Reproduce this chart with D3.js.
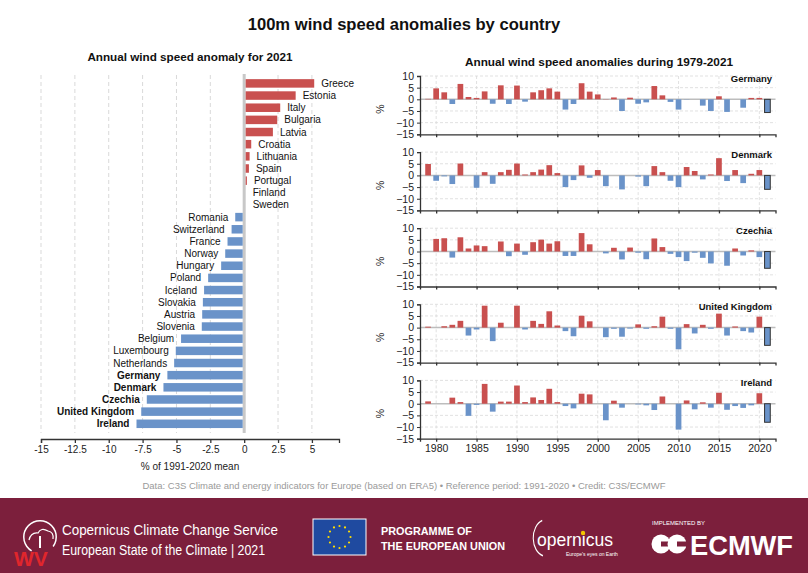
<!DOCTYPE html>
<html>
<head>
<meta charset="utf-8">
<script src="https://cdn.jsdelivr.net/npm/d3@7"></script>
<style>
body { margin: 0; background: #fff; }
svg text { font-family: "Liberation Sans", Arial, sans-serif; }
</style>
</head>
<body>
<svg id="mainSvg" width="808" height="573"></svg>
<script>
// 2021 anomaly per country (% of 1991-2020 mean)
var countries2021 = ["Greece","Estonia","Italy","Bulgaria","Latvia","Croatia","Lithuania","Spain","Portugal","Finland","Sweden",
    "Romania","Switzerland","France","Norway","Hungary","Poland","Iceland","Slovakia","Austria","Slovenia",
    "Belgium","Luxembourg","Netherlands","Germany","Denmark","Czechia","United Kingdom","Ireland"];
var values2021 = [5.17, 3.8, 2.66, 2.44, 2.12, 0.52, 0.4, 0.35, 0.2, 0.05, 0.02,
    -0.66, -0.93, -1.23, -1.4, -1.7, -2.66, -2.96, -3.05, -3.1, -3.13,
    -4.66, -5.05, -5.17, -5.67, -5.96, -7.19, -7.6, -7.95];
var boldCountries = ["Germany","Denmark","Czechia","United Kingdom","Ireland"];
var leftTicks = [-15, -12.5, -10, -7.5, -5, -2.5, 0, 2.5, 5];

// yearly anomalies 1979-2021
var years = d3.range(1979, 2022);
var yearTicks = [1980, 1985, 1990, 1995, 2000, 2005, 2010, 2015, 2020];
var panelTicks = [10, 5, 0, -5, -10, -15];
var panelNames = ["Germany","Denmark","Czechia","United Kingdom","Ireland"];
var germany = [0.2, 4.7, 3.0, -2.0, 6.6, 1.0, 0.6, 3.4, -1.9, 6.0, -2.0, 5.9, -1.0, 3.0, 3.9, 4.7, 3.3, -4.4, -2.0, 6.9, 3.3, 2.1, 0.1, 0.8, -5.0, 0.7, -1.9, -1.3, 5.7, 1.7, -1.1, -4.4, -0.1, 0.0, -2.7, -5.0, 1.3, -5.4, 0.0, -3.6, 0.6, 0.6, -5.67];
var denmark = [4.9, -2.3, -0.4, -3.7, 5.1, 0.0, -5.3, 1.4, -3.6, 1.4, 2.4, 5.1, 0.4, 1.4, 2.5, 4.4, 1.0, -5.0, -2.0, 4.3, -1.0, 2.3, -4.6, 0.0, -6.0, 0.0, -0.5, -4.6, 4.0, 1.4, -2.3, -5.0, 3.6, 1.9, -1.7, 0.4, 7.4, -2.4, 2.3, -3.3, 0.7, 2.3, -5.96];
var czechia = [0.0, 5.4, 5.7, -2.6, 6.1, 1.3, 2.6, 2.3, 0.0, 4.3, -2.0, 3.4, -1.4, 4.0, 5.1, 3.4, 4.4, -1.9, -1.9, 7.9, 3.1, 0.0, -0.8, 1.6, -3.4, 1.7, -0.5, -3.3, 5.6, 1.9, -1.0, -2.4, -4.1, -0.5, -2.7, -5.1, 0.0, -6.1, 1.3, -1.7, 0.5, -2.4, -7.19];
var unitedKingdom = [0.4, 0.0, 0.6, 1.2, 2.9, -3.4, -0.8, 9.4, -5.8, 2.1, 0.0, 9.4, -0.8, 2.9, 1.6, 7.0, 0.9, -1.5, -3.7, 5.1, 2.7, 0.0, -4.1, -0.5, -3.9, -0.4, 1.4, -0.5, 0.6, 4.7, -0.5, -9.3, 1.5, -2.5, 1.2, -0.5, 6.0, -3.4, 0.5, -1.5, -2.1, 4.7, -7.6];
var ireland = [1.0, 0.0, 0.0, 2.6, 0.7, -5.2, -0.5, 8.5, -3.4, 0.9, 0.9, 7.8, 0.7, 2.7, 1.6, 6.4, 0.7, -1.0, -2.0, 4.3, 4.0, 0.0, -7.1, 1.3, -1.7, 0.0, -0.3, -0.7, -2.7, 3.1, 0.0, -11.1, 1.4, -2.4, 0.6, -1.7, 4.7, -2.6, -1.0, -1.8, -0.7, 4.5, -7.95];
var panelSeries = [germany, denmark, czechia, unitedKingdom, ireland];

var redColor = "#c9504f";
var blueColor = "#6a93c9";
var gridColor = "#d9d9d9";
var axisColor = "#333";

var svg = d3.select("#mainSvg");

function drawTitles(){
    svg.append("text")
    .attr("x", 404)
    .attr("y", 30)
    .attr("text-anchor", "middle")
    .attr("font-size", "16.6px")
    .attr("font-weight", "bold")
    .attr("fill", "#111")
    .text("100m wind speed anomalies by country");

    svg.append("text")
    .attr("x", 190)
    .attr("y", 61)
    .attr("text-anchor", "middle")
    .attr("font-size", "11.7px")
    .attr("font-weight", "bold")
    .attr("fill", "#111")
    .text("Annual wind speed anomaly for 2021");

    svg.append("text")
    .attr("x", 599)
    .attr("y", 66)
    .attr("text-anchor", "middle")
    .attr("font-size", "11.8px")
    .attr("font-weight", "bold")
    .attr("fill", "#111")
    .text("Annual wind speed anomalies during 1979-2021");
}

function drawLeftChart(){
    var x = d3.scaleLinear().domain([-15, 7]).range([41, 339]);
    var y = d3.scaleBand().domain(countries2021).range([75.5, 431.7]).padding(0.3);
    var rows = countries2021.map(function(c, i){ return {name: c, value: values2021[i]}; });

    var g = svg.append("g").attr("class", "leftChart");

    g.selectAll(".leftGrid")
    .data(leftTicks.filter(function(d){ return d != 0; }))
    .enter()
    .append("line")
    .attr("class", "leftGrid")
    .attr("x1", function(d){ return x(d); })
    .attr("x2", function(d){ return x(d); })
    .attr("y1", 75)
    .attr("y2", 433)
    .attr("stroke", gridColor)
    .attr("stroke-width", 1)
    .attr("stroke-dasharray", "4,3");

    g.append("line")
    .attr("x1", x(0))
    .attr("x2", x(0))
    .attr("y1", 74)
    .attr("y2", 433)
    .attr("stroke", "#c8c8c8")
    .attr("stroke-width", 3);

    g.selectAll(".leftBar")
    .data(rows)
    .enter()
    .append("rect")
    .attr("class", "leftBar")
    .attr("x", function(d){ return d.value >= 0 ? x(0) + 1.5 : x(d.value); })
    .attr("width", function(d){ return Math.max(0, Math.abs(x(d.value) - x(0)) - 1.5); })
    .attr("y", function(d){ return y(d.name); })
    .attr("height", y.bandwidth())
    .attr("fill", function(d){ return d.value >= 0 ? redColor : blueColor; });

    g.selectAll(".leftLabel")
    .data(rows)
    .enter()
    .append("text")
    .attr("class", "leftLabel")
    .attr("x", function(d){ return d.value >= 0 ? Math.max(x(d.value), x(0) + 1.5) + 7 : x(d.value) - 7; })
    .attr("y", function(d){ return y(d.name) + y.bandwidth() / 2; })
    .attr("dy", "0.35em")
    .attr("text-anchor", function(d){ return d.value >= 0 ? "start" : "end"; })
    .attr("font-size", "10px")
    .attr("font-weight", function(d){ return boldCountries.indexOf(d.name) >= 0 ? "bold" : "normal"; })
    .attr("fill", "#111")
    .text(function(d){ return d.name; });

    var xAxis = d3.axisBottom(x)
    .tickValues(leftTicks)
    .tickSize(4)
    .tickFormat(function(d){ return String(d); });

    var axisG = g.append("g")
    .attr("transform", "translate(0,439)")
    .call(xAxis);
    axisG.select(".domain").attr("stroke", axisColor).attr("stroke-width", 1.3);
    axisG.selectAll(".tick line").attr("stroke", axisColor).attr("stroke-width", 1.3);
    axisG.selectAll(".tick text")
    .attr("font-size", "10px")
    .attr("fill", "#222")
    .attr("font-family", "Liberation Sans, Arial, sans-serif");

    g.append("text")
    .attr("x", 190)
    .attr("y", 470)
    .attr("text-anchor", "middle")
    .attr("font-size", "10px")
    .attr("fill", "#222")
    .text("% of 1991-2020 mean");
}

function drawPanels(){
    var x = d3.scaleLinear().domain([1978, 2022]).range([420, 775.5]);
    var barW = 5.7;
    var panelH = 58.3;
    var panelStep = 76.1;

    panelNames.forEach(function(name, p){
        var top = 76 + p * panelStep;
        var y = d3.scaleLinear().domain([-15, 10]).range([top + panelH, top]);
        var series = panelSeries[p].map(function(v, i){ return {year: years[i], value: v}; });

        var g = svg.append("g").attr("class", "panel panel_" + p);

        g.selectAll(".vGrid")
        .data(yearTicks)
        .enter()
        .append("line")
        .attr("class", "vGrid")
        .attr("x1", function(d){ return x(d); })
        .attr("x2", function(d){ return x(d); })
        .attr("y1", top)
        .attr("y2", top + panelH)
        .attr("stroke", gridColor)
        .attr("stroke-width", 0.8)
        .attr("stroke-dasharray", "3,2");

        g.selectAll(".hGrid")
        .data([10, 5, -5, -10])
        .enter()
        .append("line")
        .attr("class", "hGrid")
        .attr("x1", 420)
        .attr("x2", 775.5)
        .attr("y1", function(d){ return y(d); })
        .attr("y2", function(d){ return y(d); })
        .attr("stroke", gridColor)
        .attr("stroke-width", 0.8)
        .attr("stroke-dasharray", "3,2");

        g.append("line")
        .attr("x1", 420)
        .attr("x2", 775.5)
        .attr("y1", y(0))
        .attr("y2", y(0))
        .attr("stroke", "#bdbdbd")
        .attr("stroke-width", 1.5);

        g.selectAll(".yearBar")
        .data(series)
        .enter()
        .append("rect")
        .attr("class", "yearBar")
        .attr("x", function(d){ return x(d.year) - barW / 2; })
        .attr("width", barW)
        .attr("y", function(d){ return d.value >= 0 ? y(d.value) : y(0); })
        .attr("height", function(d){ return Math.abs(y(d.value) - y(0)); })
        .attr("fill", function(d){ return d.value >= 0 ? redColor : blueColor; })
        .attr("stroke", function(d){ return d.year == 2021 ? "#333" : "none"; })
        .attr("stroke-width", 1);

        var yAxis = d3.axisLeft(y)
        .tickValues(panelTicks)
        .tickSize(3)
        .tickFormat(function(d){ return d < 0 ? "\u2212" + Math.abs(d) : d; });
        var yG = g.append("g")
        .attr("transform", "translate(420,0)")
        .call(yAxis);
        yG.select(".domain").attr("stroke", axisColor).attr("stroke-width", 1.3);
        yG.selectAll(".tick line").attr("stroke", axisColor);
        yG.selectAll(".tick text")
        .attr("font-size", "10.5px")
        .attr("fill", "#222")
        .attr("font-family", "Liberation Sans, Arial, sans-serif");

        var xAxis = d3.axisBottom(x)
        .tickValues(yearTicks)
        .tickSize(3)
        .tickFormat(p == panelNames.length - 1 ? d3.format("d") : "");
        var xG = g.append("g")
        .attr("transform", "translate(0," + (top + panelH) + ")")
        .call(xAxis);
        xG.select(".domain").attr("stroke", axisColor).attr("stroke-width", 1.3);
        xG.selectAll(".tick line").attr("stroke", axisColor).attr("stroke-width", 1.3);
        xG.selectAll(".tick text")
        .attr("font-size", "10.5px")
        .attr("fill", "#222")
        .attr("font-family", "Liberation Sans, Arial, sans-serif");

        g.append("text")
        .attr("transform", "translate(384," + (top + panelH / 2 + 4) + ") rotate(-90)")
        .attr("text-anchor", "middle")
        .attr("font-size", "10.5px")
        .attr("fill", "#222")
        .text("%");

        g.append("text")
        .attr("x", 772)
        .attr("y", top + 6)
        .attr("text-anchor", "end")
        .attr("font-size", "9.5px")
        .attr("font-weight", "bold")
        .attr("fill", "#111")
        .text(name);
    });
}

function drawFooter(){
    svg.append("text")
    .attr("x", 404)
    .attr("y", 489)
    .attr("text-anchor", "middle")
    .attr("font-size", "9.5px")
    .attr("fill", "#9a9a9a")
    .text("Data: C3S Climate and energy indicators for Europe (based on ERA5) \u2022 Reference period: 1991-2020 \u2022 Credit: C3S/ECMWF");

    var footer = svg.append("g").attr("class", "footer");

    footer.append("rect")
    .attr("x", 0)
    .attr("y", 498)
    .attr("width", 808)
    .attr("height", 75)
    .attr("fill", "#7c1f3c");

    // C3S logo, rough shape
    footer.append("path")
    .attr("d", d3.arc()({innerRadius: 15.5, outerRadius: 17, startAngle: -2.6, endAngle: 2.2}))
    .attr("transform", "translate(40,537)")
    .attr("fill", "#fff");
    footer.append("path")
    .attr("d", "M29,540 q2,-8 9,-7 q3,-6 10,-2 q6,1 5,8")
    .attr("fill", "none")
    .attr("stroke", "#fff")
    .attr("stroke-width", 1.2);
    footer.append("line")
    .attr("x1", 40).attr("x2", 40).attr("y1", 536).attr("y2", 548)
    .attr("stroke", "#fff").attr("stroke-width", 2);
    footer.append("text")
    .attr("x", 14)
    .attr("y", 566)
    .attr("font-size", "21px")
    .attr("font-weight", "900")
    .attr("fill", "#e0262c")
    .attr("font-family", "DejaVu Sans, sans-serif")
    .text("WV");

    footer.append("text")
    .attr("x", 62)
    .attr("y", 535)
    .attr("font-size", "14px")
    .attr("fill", "#fff")
    .attr("font-family", "Lato, sans-serif")
    .attr("textLength", 216)
    .attr("lengthAdjust", "spacingAndGlyphs")
    .text("Copernicus Climate Change Service");
    footer.append("text")
    .attr("x", 62)
    .attr("y", 555)
    .attr("font-size", "14px")
    .attr("fill", "#fff")
    .attr("font-family", "Lato, sans-serif")
    .attr("textLength", 203)
    .attr("lengthAdjust", "spacingAndGlyphs")
    .text("European State of the Climate | 2021");

    // EU flag
    footer.append("rect")
    .attr("x", 313)
    .attr("y", 519)
    .attr("width", 53)
    .attr("height", 36)
    .attr("fill", "#1f4aa0")
    .attr("stroke", "#fff")
    .attr("stroke-width", 1);
    footer.selectAll(".euStar")
    .data(d3.range(12))
    .enter()
    .append("circle")
    .attr("class", "euStar")
    .attr("cx", function(d){ return 339.5 + 11 * Math.cos(d * Math.PI / 6); })
    .attr("cy", function(d){ return 537 + 11 * Math.sin(d * Math.PI / 6); })
    .attr("r", 1.1)
    .attr("fill", "#ffdd00");

    footer.append("text")
    .attr("x", 381)
    .attr("y", 535)
    .attr("font-size", "11px")
    .attr("font-weight", "bold")
    .attr("fill", "#fff")
    .attr("textLength", 91)
    .attr("lengthAdjust", "spacingAndGlyphs")
    .text("PROGRAMME OF");
    footer.append("text")
    .attr("x", 381)
    .attr("y", 550)
    .attr("font-size", "11px")
    .attr("font-weight", "bold")
    .attr("fill", "#fff")
    .attr("textLength", 124)
    .attr("lengthAdjust", "spacingAndGlyphs")
    .text("THE EUROPEAN UNION");

    // Copernicus logo
    footer.append("path")
    .attr("d", d3.arc()({innerRadius: 17.5, outerRadius: 19, startAngle: -2.9, endAngle: -0.3}))
    .attr("transform", "translate(546,538) scale(0.7,1)")
    .attr("fill", "#fff");
    footer.append("text")
    .attr("x", 537)
    .attr("y", 546)
    .attr("font-size", "19px")
    .attr("fill", "#fff")
    .attr("font-family", "Lato, sans-serif")
    .attr("font-weight", "300")
    .attr("textLength", 76)
    .attr("lengthAdjust", "spacingAndGlyphs")
    .text("opernicus");
    footer.append("circle")
    .attr("cx", 583)
    .attr("cy", 533)
    .attr("r", 2.2)
    .attr("fill", "#f2c500");
    footer.append("text")
    .attr("x", 566)
    .attr("y", 556)
    .attr("font-size", "5px")
    .attr("fill", "#fff")
    .text("Europe's eyes on Earth");

    // ECMWF logo
    footer.append("text")
    .attr("x", 652)
    .attr("y", 525)
    .attr("font-size", "6px")
    .attr("fill", "#fff")
    .text("IMPLEMENTED BY");
    [661, 677].forEach(function(cx){
        footer.append("circle")
        .attr("cx", cx)
        .attr("cy", 544)
        .attr("r", 9.5)
        .attr("fill", "#fff");
        footer.append("rect")
        .attr("x", cx)
        .attr("y", 541.5)
        .attr("width", 11)
        .attr("height", 5)
        .attr("fill", "#7c1f3c");
    });
    footer.append("text")
    .attr("x", 690)
    .attr("y", 555)
    .attr("font-size", "27px")
    .attr("font-weight", "bold")
    .attr("fill", "#fff")
    .attr("textLength", 103)
    .attr("lengthAdjust", "spacingAndGlyphs")
    .text("ECMWF");
}

drawTitles();
drawLeftChart();
drawPanels();
drawFooter();
</script>
</body>
</html>
